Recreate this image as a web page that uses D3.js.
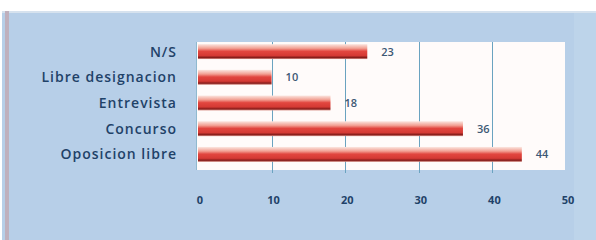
<!DOCTYPE html>
<html>
<head>
<meta charset="utf-8">
<script src="https://d3js.org/d3.v7.min.js"></script>
<style>
  body { margin: 0; background: #ffffff; }
</style>
</head>
<body>
<script>
  var categories = ["N/S", "Libre designacion", "Entrevista", "Concurso", "Oposicion libre"];
  var values = [23, 10, 18, 36, 44];
  var ticks = [0, 10, 20, 30, 40, 50];

  var w = 596, h = 240;
  var svg = d3.select("body").append("svg")
      .attr("width", w)
      .attr("height", h);

  // gradient for the bars (light top, red body, dark bottom edge)
  var defs = svg.append("defs");
  var grad = defs.append("linearGradient")
      .attr("id", "barGrad")
      .attr("x1", 0).attr("y1", 0).attr("x2", 0).attr("y2", 1);
  grad.append("stop").attr("offset", "0%").attr("stop-color", "#fbe6e0");
  grad.append("stop").attr("offset", "28%").attr("stop-color", "#f2a093");
  grad.append("stop").attr("offset", "48%").attr("stop-color", "#e2463f");
  grad.append("stop").attr("offset", "76%").attr("stop-color", "#d53a34");
  grad.append("stop").attr("offset", "90%").attr("stop-color", "#861c1a");
  grad.append("stop").attr("offset", "100%").attr("stop-color", "#d9958c");

  // panel background
  svg.append("rect").attr("x", 0).attr("y", 0).attr("width", w).attr("height", h).attr("fill", "#ffffff");
  svg.append("rect").attr("x", 2).attr("y", 11).attr("width", w - 2).attr("height", h - 11).attr("fill", "#b7cfe8");
  svg.append("rect").attr("x", 2).attr("y", 11).attr("width", w - 2).attr("height", 2).attr("fill", "#d6e2ee");
  svg.append("rect").attr("x", 5).attr("y", 11).attr("width", 4).attr("height", h - 11).attr("fill", "#bfb0bd");
  svg.append("rect").attr("x", 574).attr("y", 13).attr("width", 22).attr("height", h - 13).attr("fill", "#bdd4ea");

  var plot = { left: 196, top: 42, right: 565, bottom: 170 };

  var x = d3.scaleLinear().domain([0, 50]).range([198, 566]);
  var y = d3.scaleBand().domain(categories).range([plot.top - 3, plot.bottom - 3]).paddingInner(0.42).paddingOuter(0.2);

  // plot area
  svg.append("rect")
      .attr("x", plot.left).attr("y", plot.top)
      .attr("width", plot.right - plot.left).attr("height", plot.bottom - plot.top)
      .attr("fill", "#fffbfa");

  // gridlines
  svg.selectAll("line.grid")
      .data(ticks.slice(1, -1))
      .enter()
      .append("line")
      .attr("class", "grid")
      .attr("x1", function(d) { return Math.round(x(d)) + 0.5; })
      .attr("x2", function(d) { return Math.round(x(d)) + 0.5; })
      .attr("y1", plot.top)
      .attr("y2", plot.bottom + 3)
      .attr("stroke", "#6aa3c0")
      .attr("stroke-width", 1);

  // value axis line (left)
  svg.append("line")
      .attr("x1", plot.left + 0.5).attr("x2", plot.left + 0.5)
      .attr("y1", plot.top).attr("y2", plot.bottom)
      .attr("stroke", "#8fb9cf");

  // bars
  svg.selectAll("rect.bar")
      .data(values)
      .enter()
      .append("rect")
      .attr("class", "bar")
      .attr("x", x(0))
      .attr("y", function(d, i) { return y(categories[i]); })
      .attr("width", function(d) { return x(d) - x(0); })
      .attr("height", y.bandwidth())
      .attr("fill", "url(#barGrad)");

  // value labels
  svg.selectAll("text.val")
      .data(values)
      .enter()
      .append("text")
      .attr("class", "val")
      .text(function(d) { return d; })
      .attr("x", function(d) { return x(d) + 14; })
      .attr("y", function(d, i) { return y(categories[i]) + y.bandwidth() / 2 + 4; })
      .attr("font-family", "Open Sans, sans-serif")
      .attr("font-weight", "600")
      .attr("font-size", "11px")
      .attr("fill", "#3d5874");

  // category labels
  svg.selectAll("text.cat")
      .data(categories)
      .enter()
      .append("text")
      .attr("class", "cat")
      .text(function(d) { return d; })
      .attr("text-anchor", "end")
      .attr("x", 177)
      .attr("y", function(d) { return y(d) + y.bandwidth() / 2 + 5; })
      .attr("font-family", "Open Sans, sans-serif")
      .attr("font-weight", "600")
      .attr("font-size", "14px")
      .attr("letter-spacing", "1px")
      .attr("fill", "#1f4268");

  // tick labels
  svg.selectAll("text.tick")
      .data(ticks)
      .enter()
      .append("text")
      .attr("class", "tick")
      .text(function(d) { return d; })
      .attr("text-anchor", "middle")
      .attr("x", function(d) { return x(d) + 2; })
      .attr("y", 204)
      .attr("font-family", "Open Sans, sans-serif")
      .attr("font-weight", "bold")
      .attr("font-size", "11px")
      .attr("fill", "#1f4268");
</script>
</body>
</html>
